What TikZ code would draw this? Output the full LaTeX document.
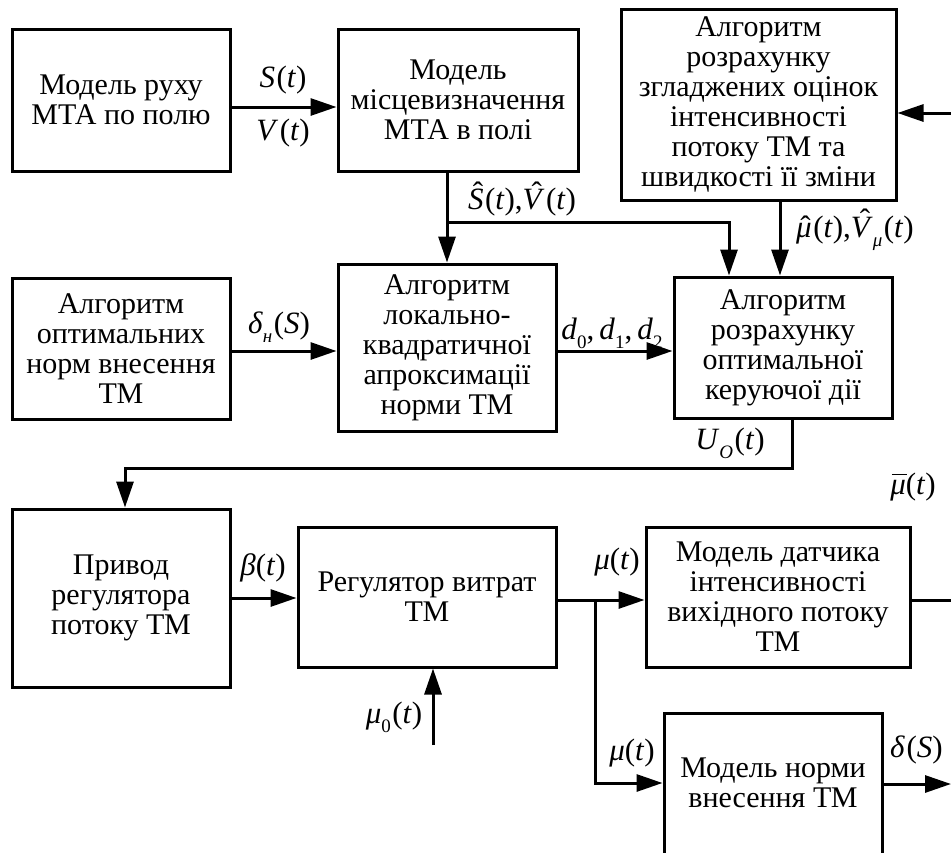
\documentclass[tikz,border=0pt]{standalone}
\usepackage{fontspec}
\setmainfont{Liberation Serif}
\newfontfamily\tnr{Liberation Serif}
\usetikzlibrary{arrows.meta}
\newcommand{\mi}[1]{\textit{#1}}
\newcommand{\hatx}[3]{\ooalign{#3\cr\hidewidth\kern#1\raisebox{#2}{ˆ}\hidewidth\cr}}
\newcommand{\barx}[1]{\ooalign{#1\cr\hidewidth\kern0.08em\raisebox{0.62em}{\rule{0.48em}{1.3pt}}\hidewidth\cr}}
\newcommand{\sbs}[1]{\raisebox{-0.3em}{\fontsize{19}{19}\selectfont #1}}
\newcommand{\lp}{\kern1.5pt(}
\begin{document}
\begin{tikzpicture}[x=1pt,y=-1pt,
  box/.style={draw,line width=3pt,rectangle,align=center,inner sep=0pt,
    font=\tnr\fontsize{30}{30}\selectfont},
  txt/.style={align=center,inner sep=0pt,font=\tnr\fontsize{30}{30}\selectfont},
  conn/.style={line width=3pt},
  arr/.style={conn,-{Triangle[length=26pt,width=17pt]}},
  lbl/.style={font=\tnr\fontsize{31}{31}\selectfont,inner sep=0pt}]
\useasboundingbox (0,0) rectangle (951,852);
\begin{scope}
\clip (0,0) rectangle (951,852);
% boxes
\node[box,minimum width=218,minimum height=142] (b1) at (121,100) {Модель руху\\МТА по полю};
\node[box,minimum width=240,minimum height=142] (b2) at (458,100) {Модель\\місцевизначення\\МТА в полі};
\node[box,minimum width=275,minimum height=191] (b3) at (758.5,104.5) {Алгоритм\\розрахунку\\згладжених оцінок\\інтенсивності\\потоку ТМ та\\швидкості її зміни};
\node[box,minimum width=218,minimum height=141] (b4) at (121,348.5) {Алгоритм\\оптимальних\\норм внесення\\ТМ};
\node[box,minimum width=218,minimum height=167] (b5) at (447,347.5) {Алгоритм\\локально-\\квадратичної\\апроксимації\\норми ТМ};
\node[box,minimum width=218,minimum height=141] (b6) at (783,347.5) {Алгоритм\\розрахунку\\оптимальної\\керуючої дії};
\node[box,minimum width=218,minimum height=178] (b7) at (121,598) {Привод\\регулятора\\потоку ТМ};
\node[box,minimum width=258,minimum height=140] (b8) at (427,597) {Регулятор витрат\\ТМ};
\node[box,minimum width=264,minimum height=140] (b9) at (778,597) {Модель датчика\\інтенсивності\\вихідного потоку\\ТМ};
\node[box,minimum width=218,minimum height=200] (b10) at (773,813) {};
\node[txt] (b10t) at (773,783) {Модель норми\\внесення ТМ};
% coordinates
\coordinate (j1) at (447,222);
\coordinate (in3) at (960,113);
\coordinate (u1) at (125,468);
\coordinate (m0) at (433,745);
\coordinate (j2) at (595,600);
\coordinate (o9) at (960,600);
\coordinate (o10) at (951,784);
% connectors
\draw[arr] ([yshift=-7pt]b1.east) -- ([yshift=-7pt]b2.west);
\draw[arr] (b5.north |- b2.south) -- (b5.north);
\draw[arr] (j1) -| ([xshift=-54pt]b6.north);
\draw[arr] ([xshift=-3pt]b6.north |- b3.south) -- ([xshift=-3pt]b6.north);
\draw[arr] (in3) -- (in3 -| b3.east);
\draw[arr] ([yshift=-2.5pt]b4.east) -- ([yshift=-2.5pt]b4.east -| b5.west);
\draw[arr] ([yshift=-3.5pt]b5.east) -- ([yshift=-3.5pt]b6.west);
\draw[arr] ([xshift=9pt]b6.south) |- (u1) -- (u1 |- b7.north);
\draw[arr] (b7.east) -- (b7.east -| b8.west);
\draw[arr] (m0) -- (m0 |- b8.south);
\draw[conn] ([yshift=-3pt]b8.east) -- (j2);
\draw[arr] (j2) -- (j2 -| b9.west);
\draw[arr] (j2) |- (b10.west |- b10t);
\draw[conn] ([yshift=-3pt]b9.east) -- (o9);
\draw[arr] (b10.east |- o10) -- (o10);
% labels
\node[lbl] (l1) at (283,80) {\mi{S}\lp\mi{t})};
\node[lbl] (l2) at (283,133) {\mi{V}\lp\mi{t})};
\node[lbl] (l3) at (522,202) {\hatx{0.14em}{0.2em}{\mi{S}}\lp\mi{t}),\hatx{0.2em}{0.2em}{\mi{V}}\lp\mi{t})};
\node[lbl] (l4) at (855,233) {\hatx{0.1em}{0em}{\mi{μ}}\lp\mi{t}),\hatx{0.2em}{0.2em}{\mi{V}}\sbs{\itshape μ}\lp\mi{t})};
\node[lbl] (l5) at (279,327) {\mi{δ}\sbs{\itshape н}\lp\mi{S})};
\node[lbl] (l6) at (612,333) {\mi{d}\sbs{0},\,\mi{d}\sbs{1},\,\mi{d}\sbs{2}};
\node[lbl] (l7) at (730,443) {\mi{U}\sbs{\itshape O}\lp\mi{t})};
\node[lbl] (l8) at (913,487) {\barx{\mi{μ}}(\mi{t})};
\node[lbl] (l9) at (263,568) {\mi{β}(\mi{t})};
\node[lbl] (l10) at (394,717) {\mi{μ}\sbs{0}\lp\mi{t})};
\node[lbl] (l11) at (617,562) {\mi{μ}(\mi{t})};
\node[lbl] (l12) at (632,753) {\mi{μ}(\mi{t})};
\node[lbl,anchor=west] (l13) at (890,750) {\mi{δ}\lp\mi{S})};
\end{scope}
\end{tikzpicture}
\end{document}
